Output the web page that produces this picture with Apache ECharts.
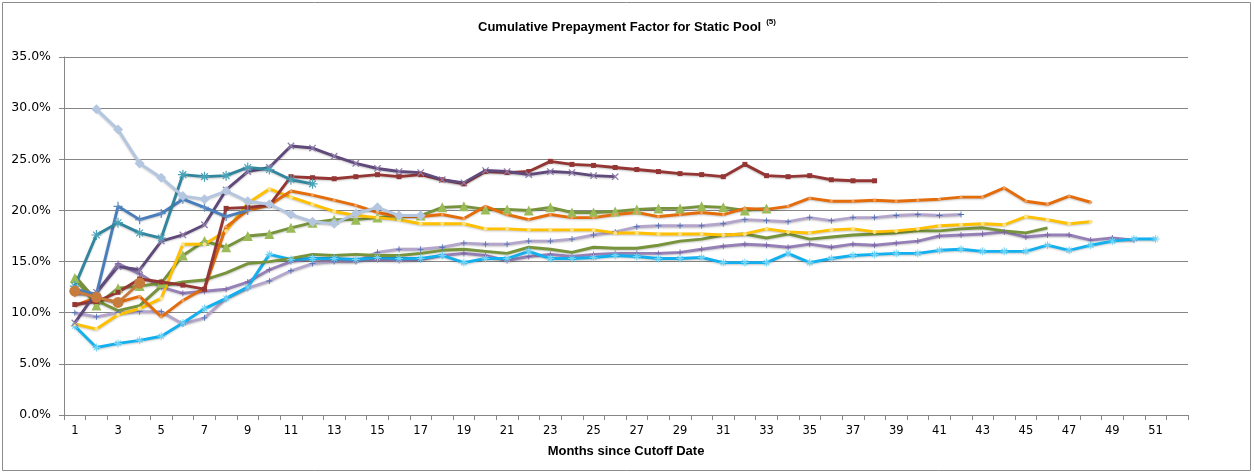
<!DOCTYPE html>
<html>
<head>
<meta charset="utf-8">
<script src="https://cdn.jsdelivr.net/npm/echarts@6/dist/echarts.min.js"></script>
<style>
html,body{margin:0;padding:0;background:#fff;}
#chart{width:1254px;height:474px;}
</style>
</head>
<body>
<div id="chart"></div>
<script>
// ---- Data (values in %) ----
const months = Array.from({length: 52}, (_, i) => String(i + 1));

const seriesNames = ['S1','S2','S3','S4','S5','S6','S7','S8','S9','S10','S11','S12','S13'];

const diamondLight = [null, 29.9, 27.9, 24.6, 23.2, 21.4, 21.1, 21.9, 20.9, 20.6, 19.6, 18.9, 18.7, 19.7, 20.3, 19.5, 19.5];
const tealStar = [12.6, 17.6, 18.8, 17.8, 17.3, 23.5, 23.3, 23.4, 24.2, 24.0, 23.0, 22.6];
const bluePlus = [12.3, 11.8, 20.4, 19.1, 19.7, 21.1, 20.3, 19.4, 20.0];
const purpleX = [9.0, 12.0, 14.5, 14.2, 17.0, 17.6, 18.6, 22.0, 23.8, 24.2, 26.3, 26.1, 25.3, 24.6, 24.1, 23.8, 23.7, 23.0, 22.7, 23.9, 23.8, 23.5, 23.8, 23.7, 23.4, 23.3];
const darkRed = [10.8, 11.1, 12.0, 13.3, 13.0, 12.7, 12.3, 20.2, 20.3, 20.5, 23.3, 23.2, 23.1, 23.3, 23.5, 23.3, 23.5, 23.0, 22.6, 23.8, 23.7, 23.8, 24.8, 24.5, 24.4, 24.2, 24.0, 23.8, 23.6, 23.5, 23.3, 24.5, 23.4, 23.3, 23.4, 23.0, 22.9, 22.9];
const orange = [10.7, 11.5, 11.0, 11.6, 9.6, 11.2, 12.4, 18.4, 20.0, 20.5, 21.9, 21.5, 21.0, 20.5, 19.8, 19.4, 19.4, 19.6, 19.2, 20.4, 19.6, 19.1, 19.6, 19.3, 19.3, 19.6, 19.8, 19.4, 19.6, 19.8, 19.6, 20.2, 20.1, 20.4, 21.2, 20.9, 20.9, 21.0, 20.9, 21.0, 21.1, 21.3, 21.3, 22.2, 20.9, 20.6, 21.4, 20.8];
const yellow = [8.9, 8.4, 9.8, 10.4, 11.4, 16.7, 16.7, 18.0, 20.7, 22.1, 21.3, 20.6, 19.9, 19.5, 19.3, 19.1, 18.7, 18.7, 18.7, 18.2, 18.2, 18.1, 18.1, 18.1, 18.1, 17.8, 17.8, 17.7, 17.7, 17.7, 17.6, 17.7, 18.2, 17.9, 17.8, 18.1, 18.2, 17.9, 18.0, 18.2, 18.5, 18.6, 18.7, 18.6, 19.4, 19.1, 18.7, 18.9];
const greenTri = [13.4, 10.7, 12.4, 12.6, 12.9, 15.6, 17.0, 16.4, 17.5, 17.7, 18.3, 18.8, 19.1, 19.1, 19.3, 19.5, 19.5, 20.3, 20.4, 20.1, 20.1, 20.0, 20.3, 19.8, 19.8, 19.9, 20.1, 20.2, 20.2, 20.4, 20.3, 20.0, 20.2];
const olive = [13.6, 11.2, 10.2, 10.7, 12.6, 13.0, 13.2, 13.9, 14.8, 15.0, 15.3, 15.7, 15.6, 15.7, 15.6, 15.6, 15.8, 16.1, 16.2, 16.0, 15.8, 16.4, 16.2, 15.9, 16.4, 16.3, 16.3, 16.6, 17.0, 17.2, 17.6, 17.7, 17.3, 17.7, 17.2, 17.4, 17.6, 17.7, 17.8, 18.0, 18.0, 18.2, 18.3, 18.0, 17.8, 18.3];
const lavender = [10.0, 9.6, 10.0, 10.1, 10.1, 8.9, 9.5, 11.4, 12.4, 13.1, 14.1, 14.8, 15.0, 15.0, 15.9, 16.2, 16.2, 16.4, 16.8, 16.7, 16.7, 17.0, 17.0, 17.2, 17.6, 17.9, 18.4, 18.5, 18.5, 18.5, 18.7, 19.1, 19.0, 18.9, 19.3, 19.0, 19.3, 19.3, 19.5, 19.6, 19.5, 19.6];
const purpleMid = [11.8, 11.9, 14.8, 13.8, 12.5, 11.9, 12.1, 12.3, 13.0, 14.2, 15.0, 15.3, 15.1, 15.1, 15.2, 15.1, 15.2, 15.6, 15.8, 15.6, 15.1, 15.5, 15.7, 15.5, 15.7, 15.8, 15.8, 15.8, 15.9, 16.2, 16.5, 16.7, 16.6, 16.4, 16.7, 16.4, 16.7, 16.6, 16.8, 17.0, 17.5, 17.6, 17.7, 17.9, 17.4, 17.6, 17.6, 17.1, 17.3, 17.1];
const cyan = [8.7, 6.6, 7.0, 7.3, 7.7, 9.0, 10.4, 11.4, 12.5, 15.7, 15.2, 15.3, 15.3, 15.2, 15.4, 15.3, 15.3, 15.6, 14.9, 15.3, 15.3, 16.0, 15.3, 15.3, 15.4, 15.6, 15.5, 15.3, 15.3, 15.4, 14.9, 14.9, 14.9, 15.8, 14.9, 15.3, 15.6, 15.7, 15.8, 15.8, 16.1, 16.2, 16.0, 16.0, 16.0, 16.6, 16.1, 16.6, 17.0, 17.2, 17.2];
const brownCircle = [12.1, 11.5, 11.0, 12.9];

const yTicks = [0, 5, 10, 15, 20, 25, 30, 35];

// ---- Symbols ----
const PLUS = 'path://M4.3,0h1.4v10h-1.4z M0,4.3h10v1.4h-10z';
const STAR = 'path://M4.4,0h1.2v10h-1.2z M0,4.4h10v1.2h-10z M1.2,2.05L2.05,1.2L8.8,7.95L7.95,8.8Z M7.95,1.2L8.8,2.05L2.05,8.8L1.2,7.95Z';

function mk(name, data, lineColor, symbol, size, markColor, extra) {
  return Object.assign({
    name: name,
    type: 'line',
    data: data,
    connectNulls: false,
    symbol: symbol,
    symbolSize: size,
    showSymbol: symbol !== 'none',
    lineStyle: {color: lineColor, width: 2.9, shadowColor: 'rgba(0,0,0,0.22)', shadowBlur: 2, shadowOffsetY: 1},
    itemStyle: {color: markColor || lineColor, borderWidth: 0},
    emphasis: {disabled: true},
    z: 2
  }, extra || {});
}

const series = [
  mk(seriesNames[0], lavender, '#B4A5CB', PLUS, 6, '#4A6FB5'),
  mk(seriesNames[1], purpleMid, '#9581B6', PLUS, 6, '#7A62A6'),
  mk(seriesNames[2], cyan, '#12B0EE', STAR, 8, '#6FD3F6'),
  mk(seriesNames[3], olive, '#77933C', 'none', 0),
  mk(seriesNames[4], greenTri, '#77933C', 'triangle', 10, '#9BBB59'),
  mk(seriesNames[5], yellow, '#FFC000', 'circle', 4, '#FFE38A'),
  mk(seriesNames[6], orange, '#E46C0A', 'circle', 3, '#F0A060'),
  mk(seriesNames[7], darkRed, '#943634', 'rect', 5, '#943634'),
  mk(seriesNames[8], purpleX, '#604A7B', PLUS, 9, '#8E7BAA', {symbolRotate: 45}),
  mk(seriesNames[9], bluePlus, '#4A7EBB', PLUS, 9, '#5E8DC6'),
  mk(seriesNames[10], tealStar, '#31859C', STAR, 10, '#4BA3B8'),
  mk(seriesNames[11], diamondLight, '#B4C6E0', 'diamond', 10, '#B4C6E0'),
  mk(seriesNames[12], brownCircle, '#C77B3C', 'circle', 11, '#C77B3C')
];

const chart = echarts.init(document.getElementById('chart'), null, {renderer: 'canvas'});
chart.setOption({
  animation: false,
  backgroundColor: '#ffffff',
  title: {
    text: '{t|Cumulative Prepayment Factor for Static Pool} {s|(5)}',
    left: 'center',
    top: 13,
    textStyle: {
      rich: {
        t: {fontFamily: 'Liberation Sans', fontWeight: 'bold', fontSize: 13, color: '#000', lineHeight: 16},
        s: {fontFamily: 'Liberation Sans', fontWeight: 'bold', fontSize: 8, color: '#000', lineHeight: 16, verticalAlign: 'top', padding: [0, 0, 6, 0]}
      }
    }
  },
  graphic: [{
    type: 'rect',
    shape: {x: 2.5, y: 2.5, width: 1248, height: 468},
    style: {fill: 'none', stroke: '#8c8c8c', lineWidth: 1},
    silent: true, z: -10
  }],
  grid: {left: 64, right: 66, top: 57, bottom: 59},
  xAxis: {
    type: 'category',
    data: months,
    boundaryGap: true,
    name: 'Months since Cutoff Date',
    nameLocation: 'middle',
    nameGap: 30,
    nameTextStyle: {fontFamily: 'Liberation Sans', fontWeight: 'bold', fontSize: 13, color: '#000'},
    axisLine: {lineStyle: {color: '#868686', width: 1}},
    axisTick: {show: true, interval: 0, length: 5, alignWithLabel: false, lineStyle: {color: '#868686'}},
    axisLabel: {interval: 1, margin: 10, fontFamily: 'DejaVu Sans', fontSize: 11.5, color: '#000'},
    splitLine: {show: false}
  },
  yAxis: {
    type: 'value',
    min: 0,
    max: 35,
    interval: 5,
    axisLine: {show: true, lineStyle: {color: '#868686', width: 1}},
    axisTick: {show: true, length: 5, lineStyle: {color: '#868686'}},
    axisLabel: {margin: 13, fontFamily: 'DejaVu Sans', fontSize: 12.5, color: '#000',
      formatter: v => v.toFixed(1) + '%'},
    splitLine: {show: true, lineStyle: {color: '#868686', width: 1}}
  },
  series: series
});
</script>
</body>
</html>
